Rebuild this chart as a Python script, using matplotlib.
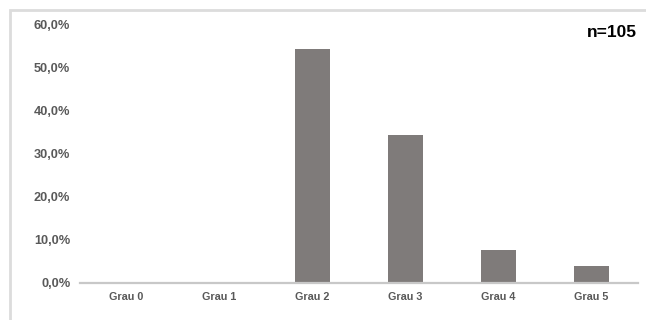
import matplotlib
matplotlib.use("Agg")
import matplotlib.pyplot as plt
from matplotlib.patches import Rectangle
from matplotlib.ticker import FuncFormatter

categories = ["Grau 0", "Grau 1", "Grau 2", "Grau 3", "Grau 4", "Grau 5"]
values = [0.0, 0.0, 0.543, 0.343, 0.076, 0.038]
yticks = [0.0, 0.1, 0.2, 0.3, 0.4, 0.5, 0.6]
annotation = "n=105"

plt.rcParams['font.family'] = ['Liberation Sans', 'DejaVu Sans']

W, H = 646, 320
fig = plt.figure(figsize=(W / 100, H / 100), dpi=100)
fig.patch.set_facecolor("white")

# outer light-grey frame (cropped at right/bottom)
fig.patches.append(Rectangle((10 / W, -0.05), 1.2, 1 - 10 / H + 0.05,
                             transform=fig.transFigure, fill=False,
                             edgecolor="#dcdcdc", linewidth=2.0))

ax = fig.add_axes([80 / W, 1 - 282.5 / H, (638 - 80) / W, (282.5 - 24.5) / H])
x = list(range(len(categories)))
ax.bar(x, values, width=0.377, color="#7f7b7a", zorder=2)

ax.set_xlim(-0.5, len(categories) - 0.5)
ax.set_ylim(0, 0.6)
ax.set_yticks(yticks)
ax.yaxis.set_major_formatter(FuncFormatter(lambda v, p: f"{v*100:.1f}%".replace(".", ",")))
ax.set_xticks(x)
ax.set_xticklabels(categories)

for s in ["top", "right", "left"]:
    ax.spines[s].set_visible(False)
ax.spines["bottom"].set_color("#c8c8c8")
ax.spines["bottom"].set_linewidth(1.6)
ax.spines["bottom"].set_zorder(3)

ax.tick_params(axis="both", length=0)
ax.tick_params(axis="y", pad=7, labelsize=9.2, labelcolor="#595959")
ax.tick_params(axis="x", pad=6.5, labelsize=7.8, labelcolor="#595959")
for lab in ax.get_yticklabels() + ax.get_xticklabels():
    lab.set_fontweight("bold")

fig.text(636.5 / W, 1 - 32.5 / H, annotation, ha="right", va="center",
         fontsize=12.5, fontweight="bold", color="black")

fig.savefig("out.png", dpi=100, facecolor="white")
